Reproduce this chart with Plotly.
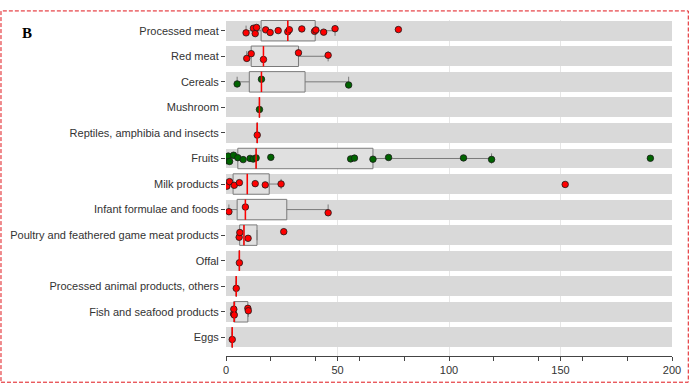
import numpy as np
import plotly.graph_objects as go

categories = [
    "Processed meat", "Red meat", "Cereals", "Mushroom",
    "Reptiles, amphibia and insects", "Fruits", "Milk products",
    "Infant formulae and foods", "Poultry and feathered game meat products",
    "Offal", "Processed animal products, others", "Fish and seafood products", "Eggs",
]

processed_meat = [9.0, 12.3, 13.1, 13.7, 17.8, 19.8, 23.4, 27.7, 28.4, 34.0, 39.7, 40.3, 43.8, 48.9, 77.3]
red_meat = [9.3, 11.3, 16.8, 32.5, 45.8]
cereals = [5.0, 15.9, 55.0]
mushroom = [15.0]
reptiles = [14.0]
fruits = [0.4, 1.0, 1.6, 3.4, 5.3, 7.7, 10.8, 12.2, 13.5, 20.1, 55.9, 57.6, 65.9, 72.9, 106.5, 119.1, 190.3]
milk = [0.4, 1.6, 3.7, 6.0, 13.1, 17.6, 24.7, 152.1]
infant = [1.3, 8.7, 45.8]
poultry = [5.9, 6.2, 9.9, 25.9]
offal = [6.0]
processed_animal = [4.6]
fish = [3.4, 3.5, 3.7, 9.8, 10.0]
eggs = [2.8]

series = [processed_meat, red_meat, cereals, mushroom, reptiles, fruits, milk,
          infant, poultry, offal, processed_animal, fish, eggs]
plant_based = ["Cereals", "Mushroom", "Fruits"]

x_tick_vals = [0, 50, 100, 150, 200]
x_minor_vals = [20, 40, 60, 80, 120, 140, 160, 180]

RED = "#ff0000"
GREEN = "#006400"
BAND = "#d9d9d9"
BOXLINE = "#7a7a7a"

fig = go.Figure()

# background bands, one per category
fig.add_trace(go.Bar(
    y=categories, x=[x_tick_vals[-1]] * len(categories), orientation="h",
    width=0.78, marker=dict(color=BAND, line=dict(width=0)),
    hoverinfo="skip", showlegend=False,
))

medians = []
for cat, vals in zip(categories, series):
    a = np.array(vals, dtype=float)
    q1, med, q3 = np.percentile(a, [25, 50, 75])
    iqr = q3 - q1
    lf = a[a >= q1 - 1.5 * iqr].min()
    uf = a[a <= q3 + 1.5 * iqr].max()
    medians.append(med)
    fig.add_trace(go.Box(
        y=[cat], q1=[q1], median=[med], q3=[q3], lowerfence=[lf], upperfence=[uf],
        orientation="h", width=0.8, boxpoints=False,
        line=dict(color=BOXLINE, width=1), fillcolor="rgba(232,232,232,0.5)",
        whiskerwidth=0.5, hoverinfo="skip", showlegend=False,
    ))

# red median lines (line-ns length is 2*1.4*size/2)
fig.add_trace(go.Scatter(
    x=medians, y=categories, mode="markers",
    marker=dict(symbol="line-ns", size=14.5, line=dict(color=RED, width=1.5)),
    hoverinfo="skip", showlegend=False,
))

# sample points
for cat, vals in zip(categories, series):
    col = GREEN if cat in plant_based else RED
    fig.add_trace(go.Box(
        x=vals, y=[cat] * len(vals), orientation="h", width=0.8,
        boxpoints="all", jitter=0.4, pointpos=0,
        line=dict(width=0), fillcolor="rgba(0,0,0,0)", whiskerwidth=0,
        marker=dict(color=col, size=6.5, line=dict(color="#1a1a1a", width=0.8)),
        hoverinfo="skip", showlegend=False,
    ))

fig.update_layout(
    width=691, height=385,
    margin=dict(l=226, r=19, t=20, b=29, autoexpand=False),
    paper_bgcolor="white", plot_bgcolor="white",
    boxmode="overlay", barmode="overlay", bargap=0,
    font=dict(family="Liberation Sans, Arial, sans-serif", size=11, color="#333333"),
    xaxis=dict(
        range=[0, 200], tickvals=x_tick_vals, ticks="outside", ticklen=4,
        tickcolor="#444444", showline=True, linecolor="#444444", linewidth=1,
        showgrid=True, gridcolor="#e6e6e6", gridwidth=1, zeroline=False,
        minor=dict(tickvals=x_minor_vals, ticks="outside", ticklen=4,
                   tickcolor="#444444", showgrid=False),
        tickfont=dict(size=11, color="#333333"), automargin=False,
    ),
    yaxis=dict(
        type="category", categoryorder="array", categoryarray=categories,
        range=[12.73, -0.42], ticks="outside", ticklen=4, tickcolor="#444444",
        showline=False, showgrid=False, zeroline=False,
        tickfont=dict(size=11, color="#333333"), automargin=False,
    ),
    shapes=[dict(
        type="rect", xref="paper", yref="paper",
        x0=-0.5045, x1=1.0365, y0=-0.078, y1=1.027,
        line=dict(color="#e0161b", width=1, dash="4px,2px"),
        fillcolor="rgba(0,0,0,0)", layer="above",
    )],
    annotations=[dict(
        text="<b>B</b>", xref="paper", yref="paper", x=-0.462, y=0.961,
        xanchor="left", yanchor="middle", showarrow=False,
        font=dict(family="Liberation Serif, Times New Roman, serif", size=15, color="black"),
    )],
)

fig.write_html("out.html", config={"displayModeBar": False},
               post_script="document.body.style.margin='0';")
